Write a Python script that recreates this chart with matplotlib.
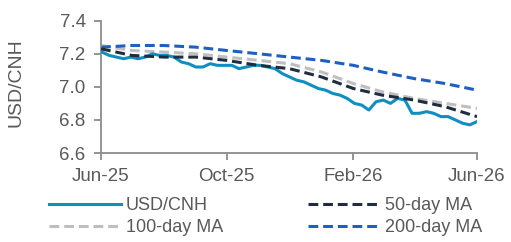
import numpy as np
import pandas as pd
import matplotlib
matplotlib.use("Agg")
import matplotlib.pyplot as plt
import matplotlib.dates as mdates

plt.rcParams['font.family'] = ['Liberation Sans', 'DejaVu Sans']

# Datos semanales del USD/CNH (lectura aproximada del grafico)
fechas_spot = pd.date_range("2025-06-02", periods=53, freq="7D")
usdcnh = [7.21, 7.19, 7.18, 7.17, 7.18, 7.17, 7.18, 7.20, 7.19, 7.19,
          7.18, 7.15, 7.14, 7.12, 7.12, 7.14, 7.13, 7.13, 7.13, 7.11,
          7.12, 7.13, 7.13, 7.12, 7.11, 7.08, 7.06, 7.04, 7.03, 7.01,
          6.99, 6.98, 6.96, 6.95, 6.93, 6.90, 6.89, 6.86, 6.91, 6.92,
          6.90, 6.93, 6.92, 6.84, 6.84, 6.85, 6.84, 6.82, 6.82, 6.80,
          6.78, 6.77, 6.79]

# Medias moviles (mensuales, son curvas suaves)
fechas_ma = pd.date_range("2025-06-01", periods=13, freq="MS")
ma50 = [7.23, 7.19, 7.18, 7.18, 7.16, 7.13, 7.11, 7.06, 6.99, 6.95, 6.92, 6.88, 6.82]
ma100 = [7.25, 7.22, 7.21, 7.20, 7.18, 7.16, 7.14, 7.09, 7.02, 6.97, 6.93, 6.90, 6.87]
ma200 = [7.24, 7.25, 7.25, 7.24, 7.22, 7.20, 7.18, 7.16, 7.13, 7.09, 7.05, 7.02, 6.98]

ticks_x = pd.to_datetime(["2025-06-01", "2025-10-01", "2026-02-01", "2026-06-01"])
ticks_y = [6.6, 6.8, 7.0, 7.2, 7.4]

GRIS_TXT = "#595959"
GRIS_EJE = "#8c8c8c"
CIAN = "#0f8fc1"
NAVY = "#1e2d3f"
GRIS_MA = "#bfbfbf"
AZUL = "#1f5fc2"

fig = plt.figure(figsize=(5.11, 2.42), dpi=100)
ax = fig.add_axes([101/511, 1 - 153/242, 376/511, (153 - 20.7)/242])

guion = (3.2, 1.6)
l_spot, = ax.plot(fechas_spot, usdcnh, color=CIAN, lw=2.2, label="USD/CNH", zorder=3)
l50, = ax.plot(fechas_ma, ma50, color=NAVY, lw=2.2, dashes=guion, label="50-day MA", zorder=4)
l100, = ax.plot(fechas_ma, ma100, color=GRIS_MA, lw=2.2, dashes=guion, label="100-day MA", zorder=2)
l200, = ax.plot(fechas_ma, ma200, color=AZUL, lw=2.2, dashes=guion, label="200-day MA", zorder=2)

ax.set_xlim(ticks_x[0], ticks_x[-1])
ax.set_ylim(6.6, 7.4)
ax.set_xticks(ticks_x)
ax.xaxis.set_major_formatter(mdates.DateFormatter("%b-%y"))
ax.set_yticks(ticks_y)
ax.yaxis.set_major_formatter(matplotlib.ticker.FormatStrFormatter("%.1f"))

for lado in ["top", "right"]:
    ax.spines[lado].set_visible(False)
for lado in ["left", "bottom"]:
    ax.spines[lado].set_color(GRIS_EJE)
    ax.spines[lado].set_linewidth(1.3)
ax.tick_params(axis="both", colors=GRIS_EJE, width=1.3, length=5,
               labelcolor=GRIS_TXT, labelsize=13.5, pad=6)

fig.text(16/511, 1 - 83/242, "USD/CNH", rotation=90, ha="center", va="center",
         color=GRIS_TXT, fontsize=14)

# la leyenda se llena por columnas: orden para que quede 2x2 como el original
handles = [l_spot, l100, l50, l200]
fig.legend(handles, [h.get_label() for h in handles],
           loc="upper left", bbox_to_anchor=(40/511, 1 - 188/242), ncol=2,
           frameon=False, fontsize=13, handlelength=4.0, handletextpad=0.25,
           columnspacing=4.7, labelspacing=0.3, borderpad=0, labelcolor=GRIS_TXT)

fig.savefig("out.png", dpi=100)
